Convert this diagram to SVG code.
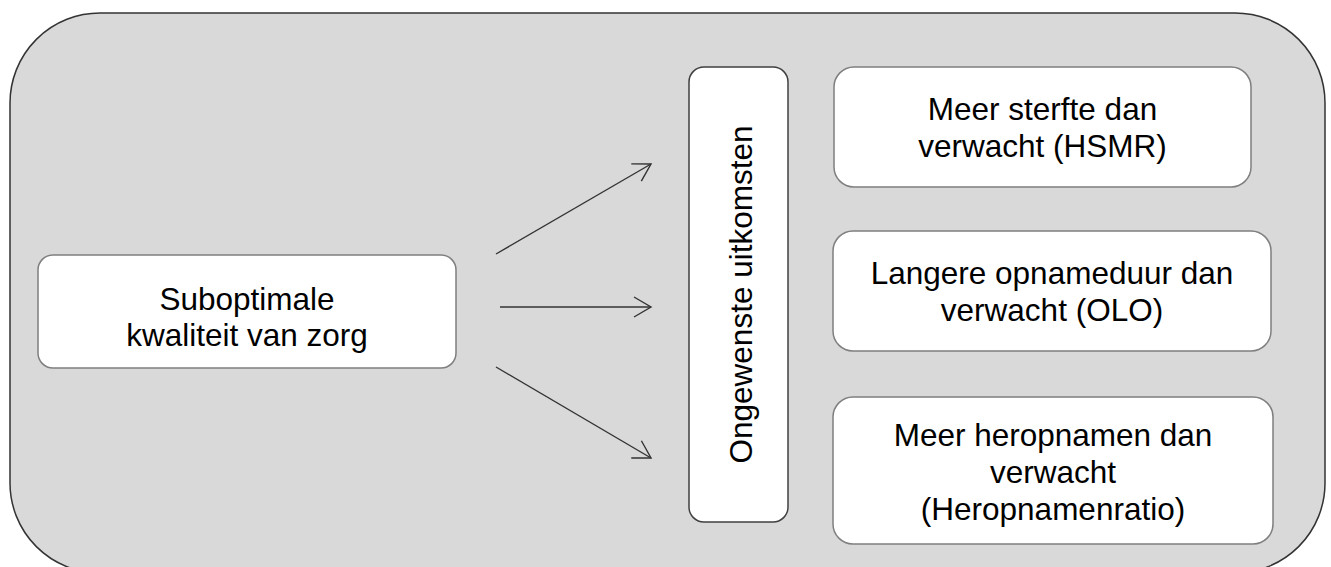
<svg xmlns="http://www.w3.org/2000/svg" width="1331" height="567" viewBox="0 0 1331 567">
<style>
.bg{fill:#d9d9d9;stroke:#333333;stroke-width:1.5}
.box{fill:#ffffff;stroke:#7f7f7f;stroke-width:1.5}
.vbox{fill:#ffffff;stroke:#404040;stroke-width:1.5}
text{font-family:"Liberation Sans",Arial,sans-serif;font-size:31.5px;fill:#000000;text-anchor:middle}
.conn{stroke:#333333;stroke-width:1.4;fill:none}
</style>
<defs>
<marker id="arr" markerUnits="userSpaceOnUse" viewBox="-20 -12 22 24" refX="0" refY="0" markerWidth="22" markerHeight="24" orient="auto">
<path d="M-17,-10 L0,0 L-17,10" fill="none" stroke="#333333" stroke-width="1.4"/>
</marker>
</defs>
<rect class="bg" x="10" y="13" width="1315" height="560" rx="90" ry="90"/>
<g id="node-suboptimale">
<rect class="box" x="38" y="255" width="418" height="113" rx="15"/>
<text x="247" y="310">Suboptimale</text>
<text x="247" y="346">kwaliteit van zorg</text>
</g>
<g id="node-ongewenste">
<rect class="vbox" x="689" y="67" width="99" height="455" rx="15"/>
<text transform="translate(752,294.5) rotate(-90)" x="0" y="0">Ongewenste uitkomsten</text>
</g>
<g id="node-hsmr">
<rect class="box" x="834" y="67" width="417" height="120" rx="20"/>
<text x="1042.5" y="120">Meer sterfte dan</text>
<text x="1042.5" y="157">verwacht (HSMR)</text>
</g>
<g id="node-olo">
<rect class="box" x="833" y="231" width="438" height="120" rx="20"/>
<text x="1052" y="284">Langere opnameduur dan</text>
<text x="1052" y="321">verwacht (OLO)</text>
</g>
<g id="node-heropnamen">
<rect class="box" x="833" y="397" width="440" height="147" rx="20"/>
<text x="1053" y="446">Meer heropnamen dan</text>
<text x="1053" y="483">verwacht</text>
<text x="1053" y="520">(Heropnamenratio)</text>
</g>
<g id="connectors">
<line class="conn" x1="496" y1="254" x2="651" y2="164" marker-end="url(#arr)"/>
<line class="conn" x1="500" y1="307" x2="651" y2="307" marker-end="url(#arr)"/>
<line class="conn" x1="496" y1="367" x2="651" y2="458" marker-end="url(#arr)"/>
</g>
</svg>
